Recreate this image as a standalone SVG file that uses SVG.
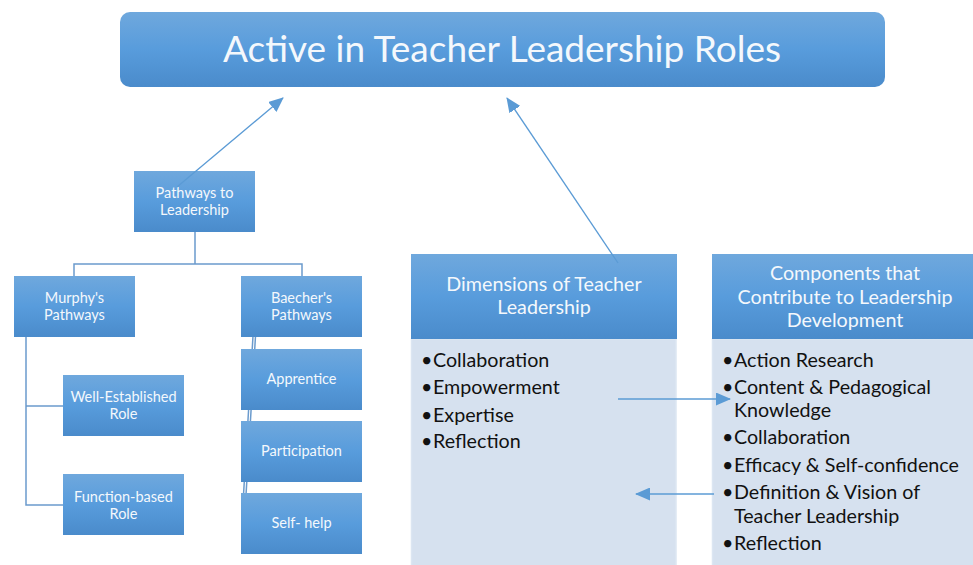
<svg xmlns="http://www.w3.org/2000/svg" width="973" height="565" viewBox="0 0 973 565">
<defs>
<linearGradient id="g" x1="0" y1="0" x2="0" y2="1">
<stop offset="0" stop-color="#6fa8dd"/>
<stop offset="0.5" stop-color="#589cdc"/>
<stop offset="1" stop-color="#4a8bcb"/>
</linearGradient>
<marker id="ah" viewBox="0 0 15 13" refX="14" refY="6.5" markerWidth="15" markerHeight="13" orient="auto" markerUnits="userSpaceOnUse">
<path d="M0,0 L15,6.5 L0,13 z" fill="#5b9bd5"/>
</marker>
</defs>
<style>
.box{fill:url(#g);}
.body{fill:#d6e1ef;stroke:#dce6f2;stroke-width:1.5;}
.t{font-family:Lato,"Open Sans",sans-serif;fill:#f4f8fc;text-anchor:middle;}
.s{font-size:14.5px;}
.h{font-size:19.7px;}
.b{font-family:Lato,"Open Sans",sans-serif;font-size:19.7px;fill:#111;}
.tree{fill:none;stroke:#6b9bcd;stroke-width:1.5;}
.arr{fill:none;stroke:#5b9bd5;stroke-width:1.3;marker-end:url(#ah);}
</style>
<rect width="973" height="565" fill="#fff"/>
<g id="connectors">
<path class="tree" d="M195,231 V264 M74,276 V264 H302 V276"/>
<path class="tree" d="M26,336 V505 H63 M26,406 H63"/>
<path class="tree" d="M253,336 L242,520 M255.5,336 L244.5,520" stroke-width="1"/>
</g>
<g id="title">
<rect class="box" x="120" y="12" width="765" height="75" rx="10"/>
<text class="t" x="502" y="62" font-size="37">Active in Teacher Leadership Roles</text>
</g>
<g id="pathways">
<rect class="box" x="134" y="171" width="121" height="61"/>
<text class="t s" x="194.5" y="197.5">Pathways to</text>
<text class="t s" x="194.5" y="215">Leadership</text>
</g>
<g id="murphy">
<rect class="box" x="14" y="276" width="121" height="61"/>
<text class="t s" x="74.5" y="302.5">Murphy's</text>
<text class="t s" x="74.5" y="320">Pathways</text>
</g>
<g id="baecher">
<rect class="box" x="241" y="276" width="121" height="61"/>
<text class="t s" x="301.5" y="302.5">Baecher's</text>
<text class="t s" x="301.5" y="320">Pathways</text>
</g>
<g id="well-established">
<rect class="box" x="63" y="375" width="121" height="61"/>
<text class="t s" x="123.5" y="402">Well-Established</text>
<text class="t s" x="123.5" y="419">Role</text>
</g>
<g id="function-based">
<rect class="box" x="63" y="474" width="121" height="61"/>
<text class="t s" x="123.5" y="501.5">Function-based</text>
<text class="t s" x="123.5" y="518.5">Role</text>
</g>
<g id="apprentice">
<rect class="box" x="241" y="349" width="121" height="61"/>
<text class="t s" x="301.5" y="384">Apprentice</text>
</g>
<g id="participation">
<rect class="box" x="241" y="421" width="121" height="61"/>
<text class="t s" x="301.5" y="456">Participation</text>
</g>
<g id="self-help">
<rect class="box" x="241" y="493" width="121" height="61"/>
<text class="t s" x="301.5" y="528">Self- help</text>
</g>
<g id="dimensions">
<rect class="body" x="411.5" y="339" width="264.5" height="230"/>
<rect class="box" x="411" y="254" width="266" height="85"/>
<text class="t h" x="544" y="291">Dimensions of Teacher</text>
<text class="t h" x="544" y="314">Leadership</text>
<text class="b" y="366.5"><tspan x="421">•</tspan><tspan x="433">Collaboration</tspan></text>
<text class="b" y="394"><tspan x="421">•</tspan><tspan x="433">Empowerment</tspan></text>
<text class="b" y="421.5"><tspan x="421">•</tspan><tspan x="433">Expertise</tspan></text>
<text class="b" y="448"><tspan x="421">•</tspan><tspan x="433">Reflection</tspan></text>
</g>
<g id="components">
<rect class="body" x="712.5" y="339" width="264" height="230"/>
<rect class="box" x="712" y="254" width="265" height="85"/>
<text class="t h" x="845" y="280">Components that</text>
<text class="t h" x="845" y="303.5">Contribute to Leadership</text>
<text class="t h" x="845" y="327">Development</text>
<text class="b" y="366.5"><tspan x="722">•</tspan><tspan x="734">Action Research</tspan></text>
<text class="b" y="394"><tspan x="722">•</tspan><tspan x="734">Content &amp; Pedagogical</tspan></text>
<text class="b" x="734" y="417">Knowledge</text>
<text class="b" y="444"><tspan x="722">•</tspan><tspan x="734">Collaboration</tspan></text>
<text class="b" y="472"><tspan x="722">•</tspan><tspan x="734">Efficacy &amp; Self-confidence</tspan></text>
<text class="b" y="499"><tspan x="722">•</tspan><tspan x="734">Definition &amp; Vision of</tspan></text>
<text class="b" x="734" y="523">Teacher Leadership</text>
<text class="b" y="550"><tspan x="722">•</tspan><tspan x="734">Reflection</tspan></text>
</g>
<g id="arrows">
<line class="arr" x1="177" y1="187" x2="283" y2="98"/>
<line class="arr" x1="618" y1="263" x2="507" y2="98"/>
<line class="arr" x1="618" y1="399" x2="730" y2="399"/>
<line class="arr" x1="714" y1="494" x2="636" y2="494"/>
</g>
</svg>
